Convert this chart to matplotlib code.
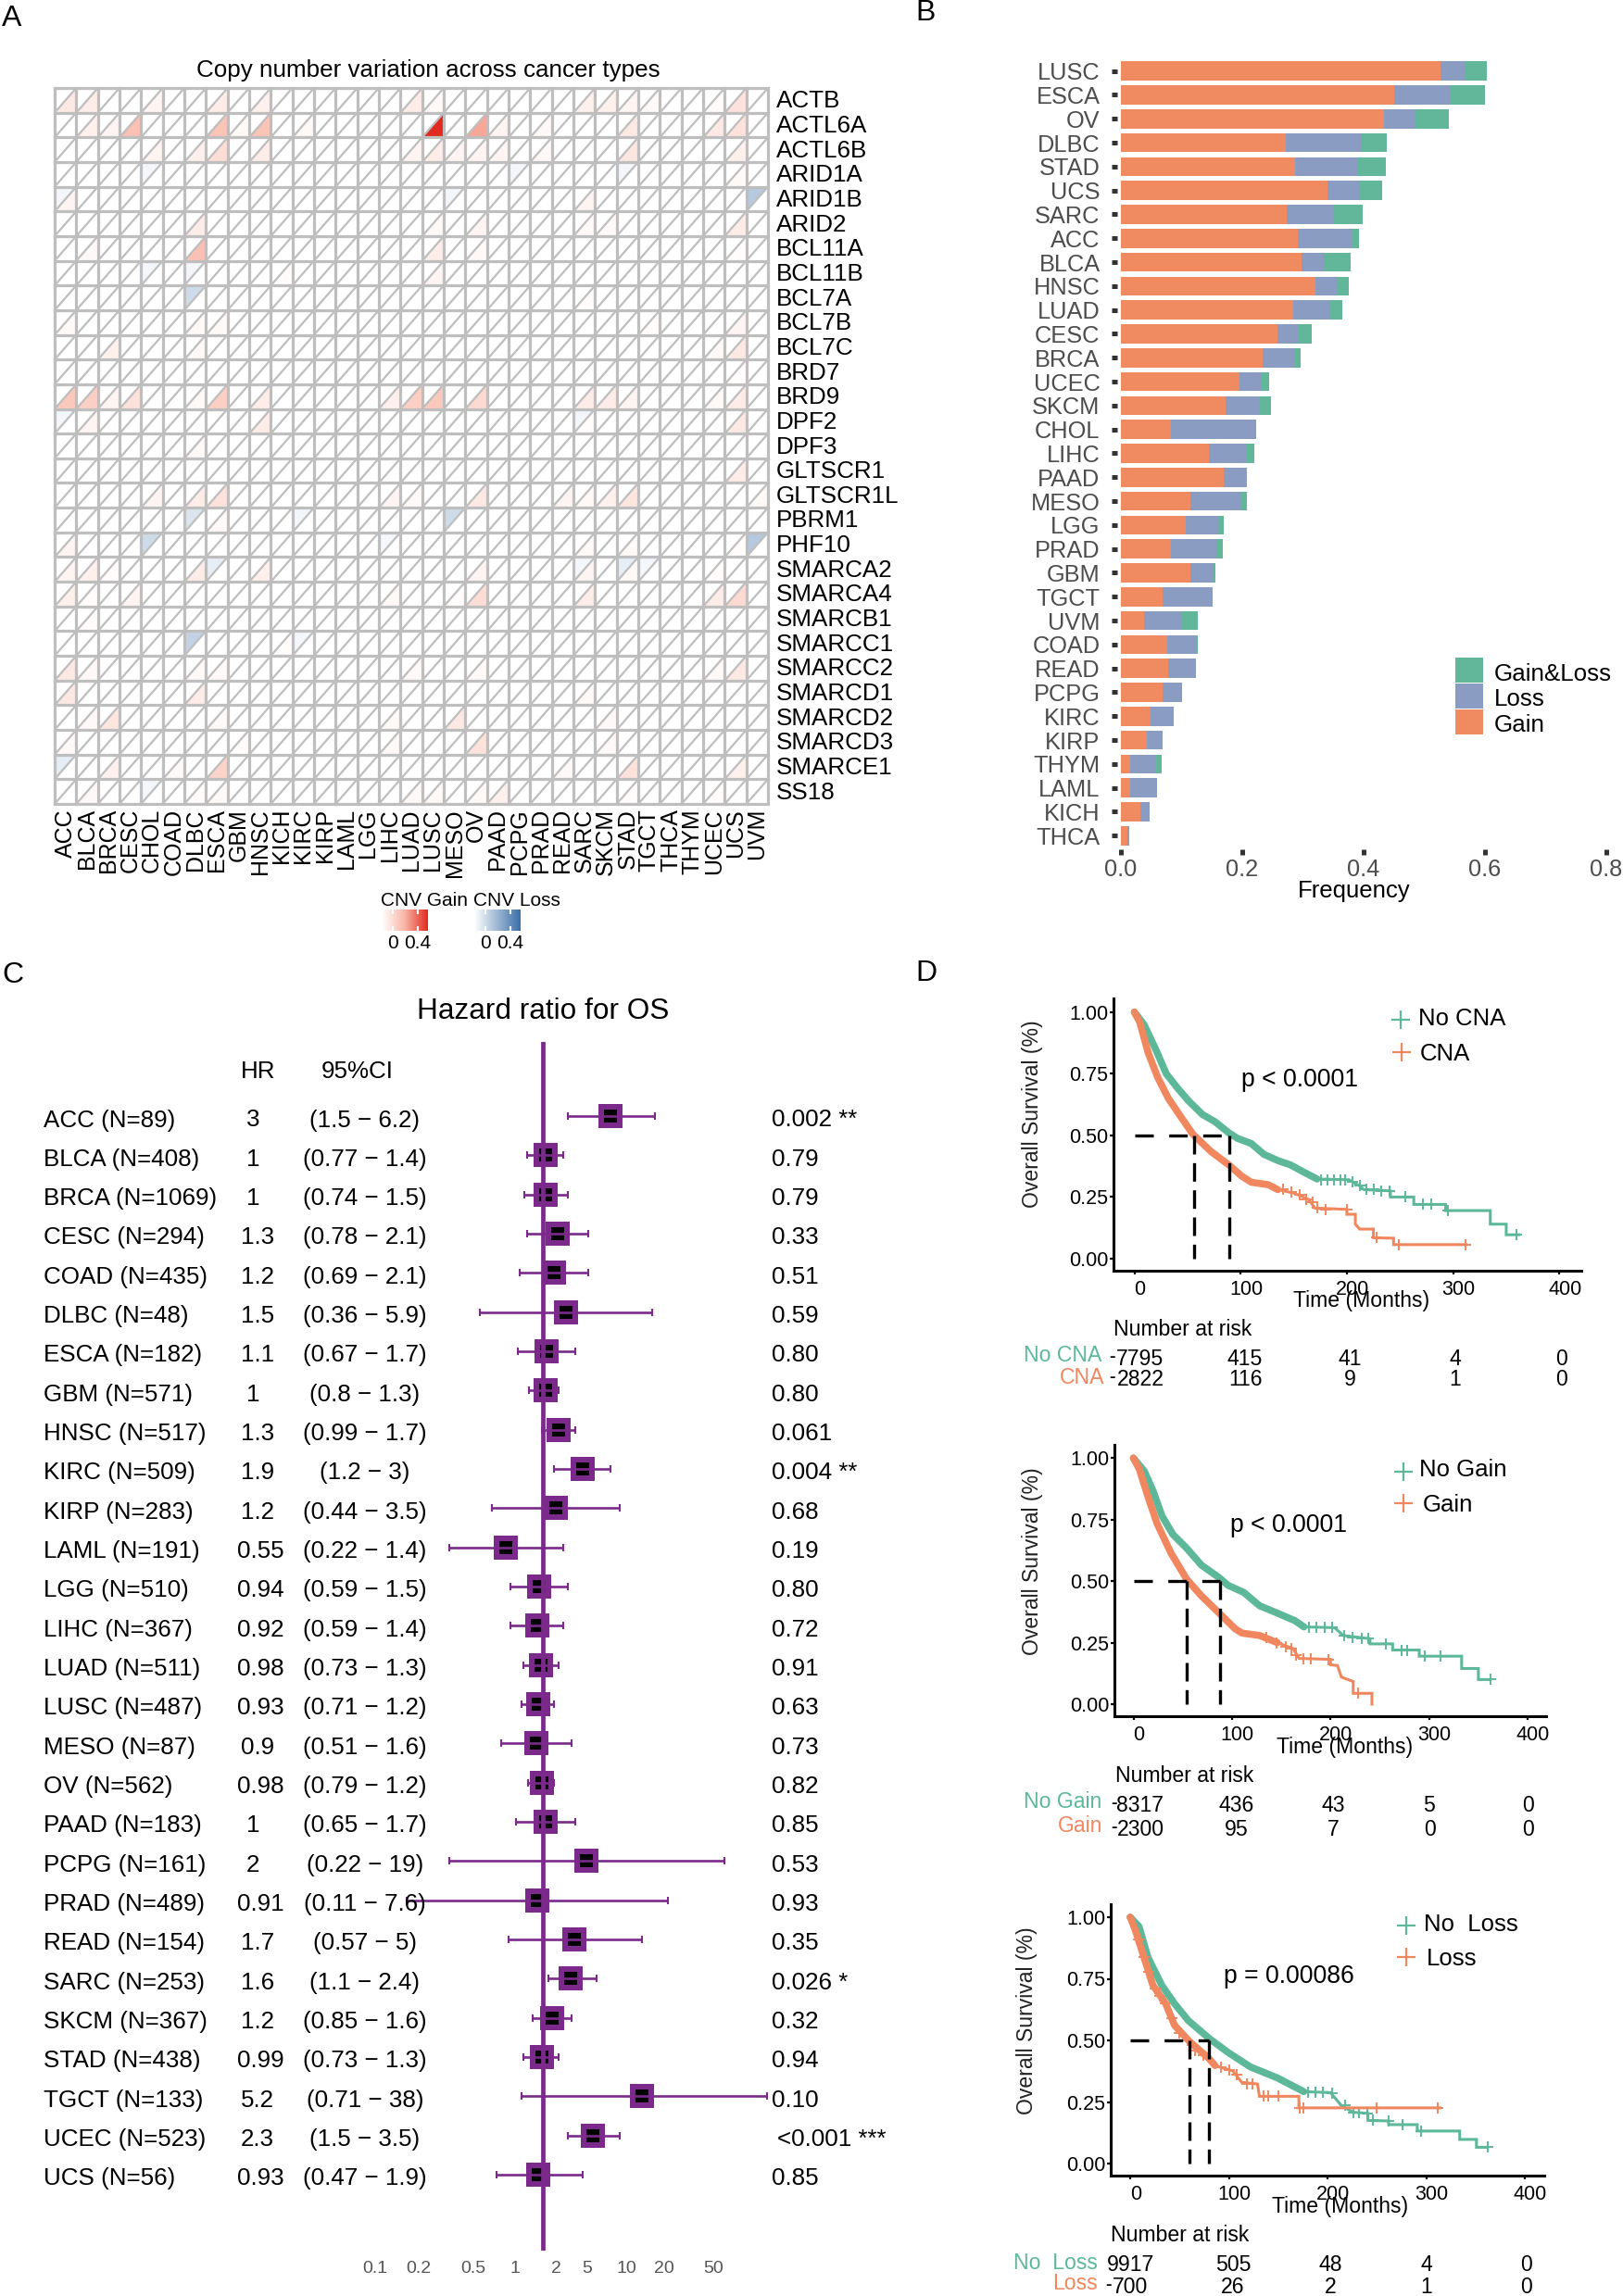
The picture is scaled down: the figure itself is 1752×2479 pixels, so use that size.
import matplotlib
matplotlib.use("Agg")
import matplotlib.pyplot as plt
import numpy as np
from matplotlib.colors import LinearSegmentedColormap, Normalize
from matplotlib.lines import Line2D
from matplotlib.patches import Rectangle
from matplotlib.transforms import ScaledTranslation

plt.rcParams['font.family'] = ['Liberation Sans', 'DejaVu Sans']

W, H = 1752, 2479

# ---------- panel A data: CNV frequency, {gene: {cancer index: value}}
cancers = ["ACC", "BLCA", "BRCA", "CESC", "CHOL", "COAD", "DLBC", "ESCA", "GBM", "HNSC", "KICH",
           "KIRC", "KIRP", "LAML", "LGG", "LIHC", "LUAD", "LUSC", "MESO", "OV", "PAAD", "PCPG",
           "PRAD", "READ", "SARC", "SKCM", "STAD", "TGCT", "THCA", "THYM", "UCEC", "UCS", "UVM"]
genes = ["ACTB", "ACTL6A", "ACTL6B", "ARID1A", "ARID1B", "ARID2", "BCL11A", "BCL11B", "BCL7A", "BCL7B",
         "BCL7C", "BRD7", "BRD9", "DPF2", "DPF3", "GLTSCR1", "GLTSCR1L", "PBRM1", "PHF10", "SMARCA2",
         "SMARCA4", "SMARCB1", "SMARCC1", "SMARCC2", "SMARCD1", "SMARCD2", "SMARCD3", "SMARCE1", "SS18"]
cnv_gain = {
    "ACTB": {0: .06, 1: .05, 4: .03, 7: .05, 9: .04, 16: .05, 17: .02, 24: .04, 25: .04, 26: .03, 27: .02, 30: .01, 31: .08},
    "ACTL6A": {1: .04, 2: .03, 3: .17, 7: .16, 8: .02, 9: .16, 11: .02, 17: .4, 19: .22, 20: .03, 22: .02, 26: .06, 30: .06, 31: .08},
    "ACTL6B": {4: .03, 6: .04, 7: .09, 9: .05, 16: .03, 17: .05, 18: .03, 19: .03, 20: .03, 22: .02, 26: .07, 31: .04},
    "ARID1A": {31: .02},
    "ARID1B": {0: .03, 24: .03},
    "ARID2": {6: .05, 17: .02, 19: .03, 24: .02, 25: .02, 31: .05},
    "BCL11A": {1: .02, 6: .17, 17: .05, 19: .02, 31: .01},
    "BCL11B": {10: .01, 17: .03},
    "BCL7A": {24: .01},
    "BCL7B": {0: .02, 6: .02, 7: .02, 27: .01, 31: .03},
    "BCL7C": {2: .04, 6: .02, 30: .02, 31: .06},
    "BRD7": {31: .01},
    "BRD9": {0: .15, 1: .13, 2: .03, 3: .08, 6: .02, 7: .13, 9: .05, 15: .04, 16: .13, 17: .15, 19: .1, 24: .05, 25: .05, 26: .03, 30: .02, 31: .05},
    "DPF2": {1: .03, 9: .05, 24: .01, 31: .06},
    "DPF3": {6: .02},
    "GLTSCR1": {31: .05},
    "GLTSCR1L": {4: .03, 6: .05, 7: .08, 15: .03, 16: .02, 19: .06, 23: .03, 24: .02, 25: .04, 26: .07, 32: .02},
    "PBRM1": {7: .02},
    "PHF10": {0: .03, 24: .02, 26: .02, 31: .01},
    "SMARCA2": {0: .03, 1: .04, 2: .01, 6: .05, 9: .04, 19: .03, 24: .03, 26: .02, 30: .01},
    "SMARCA4": {0: .04, 1: .01, 3: .03, 15: .02, 18: .01, 19: .09, 24: .05, 30: .05, 31: .1},
    "SMARCB1": {1: .01},
    "SMARCC1": {10: .01},
    "SMARCC2": {0: .06, 1: .02, 6: .02, 7: .02, 16: .02, 19: .02, 30: .02, 31: .06},
    "SMARCD1": {0: .06, 6: .05, 24: .02},
    "SMARCD2": {1: .02, 2: .07, 7: .02, 15: .02, 18: .06, 25: .02},
    "SMARCD3": {0: .02, 8: .01, 15: .02, 19: .08, 25: .02},
    "SMARCE1": {2: .04, 5: .02, 7: .12, 23: .02, 26: .08, 31: .04},
    "SS18": {1: .02, 6: .01, 7: .02, 16: .02, 17: .02, 19: .02, 20: .04, 26: .01, 30: .01},
}
cnv_loss = {
    "ARID1A": {4: .01, 21: .01, 26: .01},
    "ARID1B": {0: .01, 18: .01, 32: .06},
    "BCL11B": {4: .01, 6: .01},
    "BCL7A": {6: .04},
    "DPF2": {0: .01, 24: .01},
    "PBRM1": {6: .03, 11: .01, 18: .04},
    "PHF10": {4: .04, 15: .01, 32: .06},
    "SMARCA2": {7: .02, 24: .01, 26: .02, 27: .01},
    "SMARCC1": {6: .05, 11: .01},
    "SMARCE1": {0: .02},
    "SS18": {4: .01},
}

# ---------- panel B data
bar_types = ["LUSC", "ESCA", "OV", "DLBC", "STAD", "UCS", "SARC", "ACC", "BLCA", "HNSC", "LUAD", "CESC",
             "BRCA", "UCEC", "SKCM", "CHOL", "LIHC", "PAAD", "MESO", "LGG", "PRAD", "GBM", "TGCT", "UVM",
             "COAD", "READ", "PCPG", "KIRC", "KIRP", "THYM", "LAML", "KICH", "THCA"]
bar_gain = [.526, .450, .434, .271, .287, .340, .274, .292, .297, .320, .284, .258, .234, .196, .172, .083,
            .145, .169, .114, .107, .082, .114, .069, .038, .077, .078, .069, .049, .043, .015, .015, .032, .010]
bar_loss = [.040, .094, .052, .125, .102, .053, .077, .089, .038, .037, .060, .035, .051, .035, .056, .140,
            .062, .039, .083, .053, .075, .037, .082, .063, .047, .046, .031, .038, .025, .042, .044, .016, .003]
bar_both = [.037, .056, .054, .042, .048, .037, .047, .012, .044, .018, .021, .022, .011, .014, .019, 0,
            .013, 0, .011, .009, .011, .005, 0, .026, .002, 0, 0, 0, .001, .010, 0, 0, 0]

# ---------- panel C data
os_names = ["ACC (N=89)", "BLCA (N=408)", "BRCA (N=1069)", "CESC (N=294)", "COAD (N=435)", "DLBC (N=48)",
            "ESCA (N=182)", "GBM (N=571)", "HNSC (N=517)", "KIRC (N=509)", "KIRP (N=283)", "LAML (N=191)",
            "LGG (N=510)", "LIHC (N=367)", "LUAD (N=511)", "LUSC (N=487)", "MESO (N=87)", "OV (N=562)",
            "PAAD (N=183)", "PCPG (N=161)", "PRAD (N=489)", "READ (N=154)", "SARC (N=253)", "SKCM (N=367)",
            "STAD (N=438)", "TGCT (N=133)", "UCEC (N=523)", "UCS (N=56)"]
hr_text = ["3", "1", "1", "1.3", "1.2", "1.5", "1.1", "1", "1.3", "1.9", "1.2", "0.55", "0.94", "0.92",
           "0.98", "0.93", "0.9", "0.98", "1", "2", "0.91", "1.7", "1.6", "1.2", "0.99", "5.2", "2.3", "0.93"]
hr_vals = [3.0, 1.04, 1.05, 1.28, 1.2, 1.46, 1.06, 1.04, 1.29, 1.9, 1.23, .55, .945, .92,
           .97, .93, .9, .98, 1.05, 2.02, .92, 1.66, 1.57, 1.17, .99, 5.04, 2.27, .93]
ci_low = [1.5, .77, .74, .78, .69, .36, .67, .8, .99, 1.2, .44, .22, .59, .59,
          .73, .71, .51, .79, .65, .22, .11, .57, 1.1, .85, .73, .71, 1.5, .47]
ci_high = [6.2, 1.4, 1.5, 2.1, 2.1, 5.9, 1.7, 1.3, 1.7, 3, 3.5, 1.4, 1.5, 1.4,
           1.3, 1.2, 1.6, 1.2, 1.7, 19, 7.6, 5, 2.4, 1.6, 1.3, 38, 3.5, 1.9]
p_text = ["0.002 **", "0.79", "0.79", "0.33", "0.51", "0.59", "0.80", "0.80", "0.061", "0.004 **", "0.68",
          "0.19", "0.80", "0.72", "0.91", "0.63", "0.73", "0.82", "0.85", "0.53", "0.93", "0.35", "0.026 *",
          "0.32", "0.94", "0.10", "<0.001 ***", "0.85"]
hr_axis_labels = ["0.1", "0.2", "0.5", "1", "2", "5", "10", "20", "50"]

# ---------- panel D data: curve vertices
km_ticks = [0, 100, 200, 300, 400]

cna_no_t = [0, 9, 20, 30, 41, 51, 64, 76, 89, 97, 110, 122, 135, 147, 160, 172, 202, 212, 216, 241, 241, 263, 263, 293, 293, 335, 335, 350, 350, 362]
cna_no_s = [1, .95, .85, .75, .69, .64, .585, .555, .51, .488, .467, .423, .398, .38, .35, .323, .32, .295, .28, .275, .25, .25, .22, .22, .195, .195, .14, .14, .097, .097]
cna_yes_t = [0, 5, 13, 22, 32, 43, 55, 72, 89, 101, 110, 126, 135, 151, 164, 170, 200, 200, 208, 208, 212, 225, 225, 244, 244, 312]
cna_yes_s = [1, .96, .835, .735, .65, .58, .505, .435, .38, .335, .31, .30, .28, .265, .24, .205, .20, .18, .18, .14, .12, .12, .085, .083, .057, .057]
cna_no_cens_t = [176, 182, 188, 194, 198, 205, 212, 218, 225, 232, 240, 255, 272, 279, 295, 360]
cna_no_cens_s = [.32, .32, .32, .32, .32, .31, .295, .28, .28, .275, .275, .25, .22, .22, .195, .097]
cna_yes_cens_t = [140, 148, 156, 162, 168, 172, 180, 200, 228, 249, 312]
cna_yes_cens_s = [.28, .27, .26, .24, .23, .205, .2, .2, .085, .057, .057]

gain_no_t = [0, 11, 20, 29, 40, 54, 69, 87, 96, 112, 128, 146, 164, 173, 204, 213, 240, 240, 263, 263, 290, 290, 333, 333, 350, 350, 362]
gain_no_s = [1, .947, .866, .765, .69, .634, .565, .514, .483, .454, .40, .37, .339, .314, .311, .279, .266, .245, .245, .22, .22, .195, .195, .145, .145, .10, .10]
gain_yes_t = [0, 6, 15, 24, 38, 54, 69, 87, 103, 110, 128, 146, 162, 168, 200, 200, 207, 211, 223, 223, 242, 242]
gain_yes_s = [1, .955, .84, .734, .615, .508, .44, .37, .307, .289, .279, .25, .226, .186, .182, .16, .157, .11, .092, .044, .044, 0]
gain_no_cens_t = [178, 186, 194, 202, 214, 222, 232, 238, 256, 272, 278, 296, 312, 362]
gain_no_cens_s = [.313, .313, .312, .311, .279, .27, .268, .266, .245, .22, .22, .195, .195, .10]
gain_yes_cens_t = [135, 145, 155, 160, 165, 172, 180, 198, 228]
gain_yes_cens_s = [.27, .25, .235, .226, .2, .185, .184, .182, .044]

loss_no_t = [0, 9, 18, 32, 45, 59, 81, 100, 122, 149, 176, 203, 214, 226, 241, 241, 262, 262, 291, 291, 334, 334, 351, 351, 362]
loss_no_s = [1, .962, .837, .724, .649, .58, .505, .449, .392, .348, .292, .288, .236, .208, .204, .175, .173, .158, .158, .132, .132, .098, .098, .066, .066]
loss_yes_t = [0, 5, 14, 23, 36, 45, 61, 79, 86, 104, 113, 129, 131, 171, 171, 314]
loss_yes_s = [1, .95, .837, .724, .649, .561, .492, .43, .398, .376, .33, .323, .273, .273, .226, .226]
loss_no_cens_t = [180, 188, 195, 205, 218, 226, 232, 240, 246, 262, 276, 295, 362]
loss_no_cens_s = [.29, .29, .29, .285, .236, .208, .206, .204, .175, .173, .158, .132, .066]
loss_yes_cens_t = [8, 14, 19, 25, 30, 36, 42, 50, 58, 66, 74, 92, 100, 108, 118, 124, 135, 140, 150, 172, 176, 250, 312]
loss_yes_cens_s = [.91, .837, .78, .71, .68, .649, .59, .53, .5, .46, .44, .39, .38, .36, .325, .325, .273, .273, .273, .226, .226, .226, .226]

GREEN = "#5DB899"
ORANGE = "#F0875F"
PURPLE = "#7B2A8C"
GRID = "#BEBEBE"

fig = plt.figure(figsize=(W / 100, H / 100), dpi=100)


def px_axes(left, top, right, bottom):
    return fig.add_axes([left / W, 1 - bottom / H, (right - left) / W, (bottom - top) / H])


def txt(x, y, s, size=18.5, ha="left", va="center", **kw):
    fig.text(x / W, 1 - y / H, s, fontsize=size, ha=ha, va=va, **kw)


for label, lx, ly in [("A", 2, 20), ("B", 988, 14), ("C", 2, 1053), ("D", 988, 1051)]:
    txt(lx, ly, label, size=23)


# ---------- panel A
def draw_cnv():
    ax = px_axes(59, 95, 829, 868)
    ax.set_xlim(0, len(cancers))
    ax.set_ylim(len(genes), 0)
    ax.axis("off")
    gain_cmap = LinearSegmentedColormap.from_list("g", ["#FFFFFF", "#F9B5A5", "#E12A1F"])
    loss_cmap = LinearSegmentedColormap.from_list("l", ["#FFFFFF", "#3B6FA8"])
    norm = Normalize(0, 0.4)
    for gi, gene in enumerate(genes):
        for ci, val in cnv_gain.get(gene, {}).items():
            ax.fill([ci, ci + 1, ci + 1], [gi + 1, gi + 1, gi], color=gain_cmap(norm(val)), lw=0)
        for ci, val in cnv_loss.get(gene, {}).items():
            ax.fill([ci, ci, ci + 1], [gi + 1, gi, gi], color=loss_cmap(norm(val * 2.5)), lw=0)
    for i in range(len(cancers) + 1):
        ax.axvline(i, color=GRID, lw=2.3, clip_on=False)
    for j in range(len(genes) + 1):
        ax.axhline(j, color=GRID, lw=2.3, clip_on=False)
    for i in range(len(cancers)):
        for j in range(len(genes)):
            ax.plot([i, i + 1], [j + 1, j], color=GRID, lw=1.6, solid_capstyle="butt")
    ax.text(-0.02, -0.7, "", fontsize=1)
    cell_w = 770 / len(cancers)
    cell_h = 773 / len(genes)
    for i, name in enumerate(cancers):
        txt(59 + cell_w * (i + 0.5), 873, name, size=18, ha="center", va="top", rotation=90)
    for j, name in enumerate(genes):
        txt(838, 95 + cell_h * (j + 0.5) + 1, name, size=18.7)
    txt(462, 76, "Copy number variation across cancer types", size=18.7, ha="center")

    # the two small colour keys
    for title, tx, left, cmap in [("CNV Gain", 411, 412, gain_cmap), ("CNV Loss", 511, 512, loss_cmap)]:
        txt(tx, 972, title, size=15)
        cb = px_axes(left, 982, left + 50, 1005)
        cb.imshow(np.linspace(0, 1, 128)[None, :], cmap=cmap, aspect="auto", extent=[-0.178, 0.563, 0, 1])
        cb.set_yticks([])
        cb.set_xticks([0, 0.4], ["0", "0.4"])
        cb.tick_params(axis="x", direction="in", color="white", top=True, bottom=True, length=3.5, width=1.5,
                       labelsize=15, pad=3)
        for sp in cb.spines.values():
            sp.set_visible(False)


# ---------- panel B
def draw_bars():
    # axes left edge sits on the tick squares, 4 px before zero
    ax = px_axes(1206, 60, 1748, 917)
    ax.set_xlim(-4 / 655, 538 / 655)
    rows = np.arange(len(bar_types))
    ax.set_ylim((917 - 76.7) / 25.8, (60 - 76.7) / 25.8)
    gain = np.array(bar_gain)
    loss = np.array(bar_loss)
    both = np.array(bar_both)
    ax.barh(rows, gain, height=0.8, color="#F08A60")
    ax.barh(rows, loss, height=0.8, left=gain, color="#8B9CC3")
    ax.barh(rows, both, height=0.8, left=gain + loss, color="#62B79A")
    for sp in ax.spines.values():
        sp.set_visible(False)
    ax.set_yticks(rows, bar_types)
    ax.set_xticks([0, 0.2, 0.4, 0.6, 0.8], ["0.0", "0.2", "0.4", "0.6", "0.8"])
    ax.tick_params(axis="y", length=4.3, width=3.6, color="#333333", labelcolor="#4D4D4D", labelsize=18.3, pad=9)
    ax.tick_params(axis="x", length=4.3, width=3.6, color="#333333", labelcolor="#4D4D4D", labelsize=18.3, pad=3)
    for tick in ax.get_xticklabels():
        tick.set_clip_on(False)
    txt(1462, 962, "Frequency", size=18.5, ha="center")
    for name, color, top, tx_y in [("Gain&Loss", "#62B79A", 710, 728), ("Loss", "#8B9CC3", 738, 755), ("Gain", "#F08A60", 766, 783)]:
        fig.add_artist(Rectangle((1571 / W, 1 - (top + 27) / H), 30 / W, 27 / H, transform=fig.transFigure, fc=color, ec="none"))
        txt(1613, tx_y, name, size=18.7)


# ---------- panel C
def draw_forest():
    x_one, per_decade = 586, 153
    left, right = 400, 840
    y0, pitch = 1205, 42.33
    ax = px_axes(left, 1125, right, 2430)
    ax.set_xscale("log")
    ax.set_xlim(10 ** ((left - x_one) / per_decade), 10 ** ((right - x_one) / per_decade))
    ax.set_ylim((2430 - y0) / pitch, (1125 - y0) / pitch)
    ax.axis("off")
    rows = np.arange(len(os_names))
    hr = np.array(hr_vals)
    ax.plot(hr, rows, "s", ms=19, color=PURPLE, mew=0, clip_on=False)
    ax.plot(hr, rows, "s", ms=10.5, color="black", mew=0, clip_on=False)
    ax.errorbar(hr, rows, xerr=[hr - np.array(ci_low), np.array(ci_high) - hr], fmt="none", ecolor=PURPLE,
                elinewidth=1.9, capsize=2.6, capthick=1.5, clip_on=False)
    ax.axvline(1, color=PURPLE, lw=3.4)

    for i, name in enumerate(os_names):
        y = y0 + pitch * i + 4.5
        txt(47, y, name, size=18.7)
        hr_x = {1: 273, 3: 278, 4: 281}[len(hr_text[i])]
        txt(hr_x, y, hr_text[i], size=18.7, ha="center")
        txt(394, y, f"({ci_low[i]:g} \u2212 {ci_high[i]:g})", size=18.7, ha="center")
        px = 839 if p_text[i].startswith("<") else 833
        txt(px, y, p_text[i], size=18.7)
    txt(279, 1157, "HR", size=18.7, ha="center")
    txt(386, 1157, "95%CI", size=18.7, ha="center")
    txt(586, 1092, "Hazard ratio for OS", size=22.7, ha="center")
    for label, lx in zip(hr_axis_labels, [405, 452, 511, 556, 600, 634, 676, 717, 770]):
        txt(lx, 2450, label, size=14, ha="center", color="#555555")


# ---------- panel D
def draw_km(box, xmap, ymap, no_curve, yes_curve, no_cens, yes_cens, medians, names, p_label, layout):
    left, top, right, bottom = box
    x0, per_100 = xmap
    y1, y00 = ymap
    per_one = y00 - y1
    ax = px_axes(left, top, right, bottom)
    ax.set_xlim((left - x0) / per_100 * 100, (right - x0) / per_100 * 100)
    ax.set_ylim((y00 - bottom) / per_one, (y00 - top) / per_one)
    for curve, cens, color, thick_to in [(no_curve, no_cens, GREEN, layout["no_thick"]), (yes_curve, yes_cens, ORANGE, layout["yes_thick"])]:
        t, s = curve
        ax.plot(t, s, color=color, lw=2.2, solid_joinstyle="miter")
        # the dense censor marks make the early part of the curve look like a thick band
        ax.plot(t[:thick_to], s[:thick_to], color=color, lw=5.5, solid_capstyle="round")
        ax.plot(cens[0], cens[1], "+", color=color, ms=8, mew=1.4)
    ax.plot([0, medians[1]], [0.5, 0.5], color="black", lw=2.4, ls=(0, (6, 5)))
    for m in medians:
        ax.plot([m, m], [0.5, 0], color="black", lw=2.4, ls=(0, (6, 2.8)))
    for sp in ["top", "right"]:
        ax.spines[sp].set_visible(False)
    for sp in ["left", "bottom"]:
        ax.spines[sp].set_linewidth(2.2)
    ax.set_xticks(km_ticks, [str(v) for v in km_ticks])
    ax.set_yticks([0, 0.25, 0.5, 0.75, 1], ["0.00", "0.25", "0.50", "0.75", "1.00"])
    ax.tick_params(axis="both", labelsize=15.5, length=3, width=1.6, labelcolor="black")
    ax.tick_params(axis="x", pad=4)
    ax.tick_params(axis="y", pad=1)
    shift = ScaledTranslation(6 / 100, 0, fig.dpi_scale_trans)
    for lab in ax.get_xticklabels():
        lab.set_transform(lab.get_transform() + shift)

    txt(layout["xlabel"][0], layout["xlabel"][1], "Time (Months)", size=16.6, ha="center")
    txt(layout["ylabel"][0], layout["ylabel"][1], "Overall Survival (%)", size=16.6, ha="center", rotation=90, color="#222222")
    txt(layout["nar"][0], layout["nar"][1], "Number at risk", size=16.6)
    txt(layout["p"][0], layout["p"][1], p_label, size=19.2)

    for i, (name, color) in enumerate(zip(names, [GREEN, ORANGE])):
        px0, py = layout["plus"][i]
        fig.add_artist(Line2D([(px0 + 9) / W], [1 - py / H], marker="+", ms=13.7, mew=1.6, color=color, transform=fig.transFigure))
        lx, ly = layout["leg_text"][i]
        txt(lx, ly, name, size=18.5)
        rx, ry = layout["risk_name"][i]
        txt(rx, ry, name, size=16.6, ha="right", color=color)
        for value, nx in zip(layout["risk"][i], layout["risk_x"]):
            txt(nx, layout["risk_y"][i], value, size=16.6, ha="center")
        if layout["dash"][i]:
            txt(layout["dash_x"], layout["risk_y"][i] - 2, "-", size=14, ha="center", fontweight="bold")


draw_cnv()
draw_bars()
draw_forest()

draw_km((1202, 1078, 1707, 1372), (1224.5, 114.7), (1092.7, 1359),
        (cna_no_t, cna_no_s), (cna_yes_t, cna_yes_s),
        (cna_no_cens_t, cna_no_cens_s), (cna_yes_cens_t, cna_yes_cens_s),
        (56, 89.5), ("No CNA", "CNA"), "p < 0.0001",
        dict(no_thick=16, yes_thick=13, xlabel=(1470, 1404), ylabel=(1114, 1203), nar=(1202, 1435), p=(1340, 1166),
             plus=[(1503, 1101), (1504, 1136)], leg_text=[(1531, 1100), (1533, 1138)],
             risk_name=[(1189, 1463), (1192, 1487)], risk=[["7795", "415", "41", "4", "0"], ["2822", "116", "9", "1", "0"]],
             risk_x=[1231, 1344, 1457, 1571, 1686], risk_y=[1468, 1490], dash=(True, True), dash_x=1200))
draw_km((1203, 1560, 1669, 1853), (1223.5, 106.4), (1574.3, 1840),
        (gain_no_t, gain_no_s), (gain_yes_t, gain_yes_s),
        (gain_no_cens_t, gain_no_cens_s), (gain_yes_cens_t, gain_yes_cens_s),
        (54, 88), ("No Gain", "Gain"), "p < 0.0001",
        dict(no_thick=14, yes_thick=12, xlabel=(1452, 1887), ylabel=(1114, 1686), nar=(1204, 1917), p=(1328, 1647),
             plus=[(1506, 1589), (1506, 1623)], leg_text=[(1532, 1587), (1536, 1625)],
             risk_name=[(1189, 1945), (1190, 1971)], risk=[["8317", "436", "43", "5", "0"], ["2300", "95", "7", "0", "0"]],
             risk_x=[1231, 1335, 1439, 1543, 1650], risk_y=[1950, 1975], dash=(True, True), dash_x=1202))
draw_km((1199, 2056, 1667, 2349), (1220, 106.5), (2070, 2336),
        (loss_no_t, loss_no_s), (loss_yes_t, loss_yes_s),
        (loss_no_cens_t, loss_no_cens_s), (loss_yes_cens_t, loss_yes_cens_s),
        (60, 80), ("No  Loss", "Loss"), "p = 0.00086",
        dict(no_thick=11, yes_thick=9, xlabel=(1447, 2382), ylabel=(1108, 2182), nar=(1199, 2413), p=(1321, 2134),
             plus=[(1509, 2079), (1509, 2113)], leg_text=[(1537, 2078), (1540, 2115)],
             risk_name=[(1185, 2443), (1185, 2466)], risk=[["9917", "505", "48", "4", "0"], ["700", "26", "2", "1", "0"]],
             risk_x=[1220, 1331, 1436, 1540, 1648], risk_y=[2446, 2470], dash=(False, True), dash_x=1197))

fig.savefig("out.png", dpi=100)
